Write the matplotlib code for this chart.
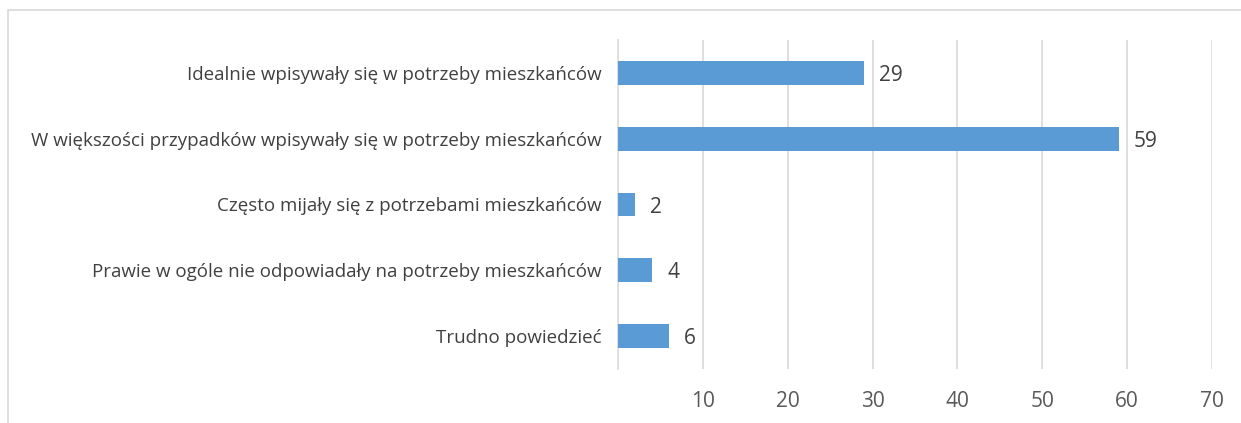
import matplotlib.pyplot as plt
from matplotlib.patches import Rectangle

categories = [
    "Idealnie wpisywały się w potrzeby mieszkańców",
    "W większości przypadków wpisywały się w potrzeby mieszkańców",
    "Często mijały się z potrzebami mieszkańców",
    "Prawie w ogóle nie odpowiadały na potrzeby mieszkańców",
    "Trudno powiedzieć",
]
values = [29, 59, 2, 4, 6]
x_ticks = [10, 20, 30, 40, 50, 60, 70]

plt.rcParams['font.family'] = ['Open Sans', 'DejaVu Sans']

fig = plt.figure(figsize=(12.41, 4.23), dpi=100)
ax = fig.add_axes([0.498, 0.1277, 0.4786, 0.7777])

# chart border (cut off at right and bottom, like the screenshot)
fig.patches.append(Rectangle((8 / 1241, -0.1), 1.2, 1 - 10 / 423 + 0.1,
                             transform=fig.transFigure, fill=False,
                             edgecolor='#D9D9D9', linewidth=1.2))

pos = list(range(len(categories)))[::-1]
ax.barh(pos, values, height=0.36, color='#5B9BD5', zorder=3)

for p, v in zip(pos, values):
    ax.text(v + 1.8, p - 0.04, str(v), va='center', ha='left', fontsize=15, color='#404040')

ax.set_xlim(0, 70)
ax.set_ylim(-0.5, len(categories) - 0.5)
ax.set_yticks(pos)
ax.set_yticklabels(categories, fontsize=13.5, color='#404040')
ax.set_xticks(x_ticks)
ax.set_xticklabels([str(t) for t in x_ticks], fontsize=15, color='#595959')
ax.tick_params(axis='both', length=0)
ax.tick_params(axis='y', pad=12)
ax.tick_params(axis='x', pad=16)
ax.grid(axis='x', color='#D9D9D9', linewidth=1.2, zorder=0)
for s in ['top', 'right', 'bottom']:
    ax.spines[s].set_visible(False)
ax.spines['left'].set_color('#D9D9D9')
ax.spines['left'].set_linewidth(1.2)

fig.savefig('out.png', dpi=100)
